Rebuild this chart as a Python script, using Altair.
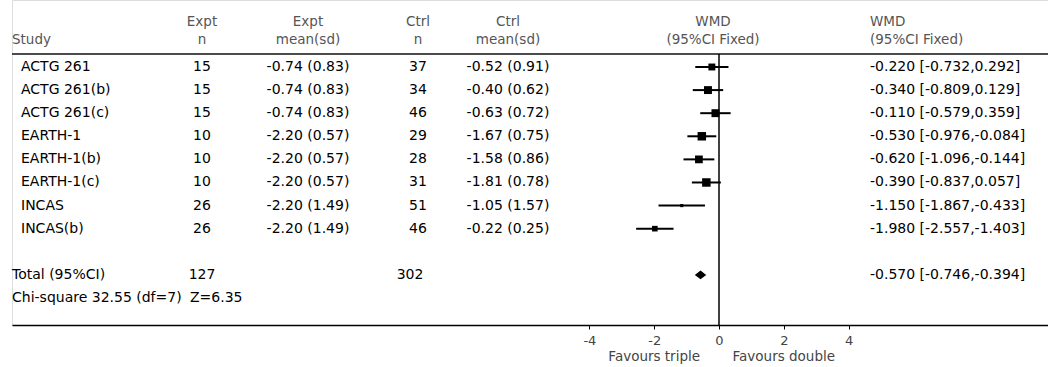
import altair as alt
import pandas as pd

# ---------------- data ----------------
studies = ["ACTG 261", "ACTG 261(b)", "ACTG 261(c)", "EARTH-1", "EARTH-1(b)",
           "EARTH-1(c)", "INCAS", "INCAS(b)"]
expt_n = [15, 15, 15, 10, 10, 10, 26, 26]
expt_mean_sd = ["-0.74 (0.83)", "-0.74 (0.83)", "-0.74 (0.83)", "-2.20 (0.57)",
                "-2.20 (0.57)", "-2.20 (0.57)", "-2.20 (1.49)", "-2.20 (1.49)"]
ctrl_n = [37, 34, 46, 29, 28, 31, 51, 46]
ctrl_mean_sd = ["-0.52 (0.91)", "-0.40 (0.62)", "-0.63 (0.72)", "-1.67 (0.75)",
                "-1.58 (0.86)", "-1.81 (0.78)", "-1.05 (1.57)", "-0.22 (0.25)"]
wmd = [-0.220, -0.340, -0.110, -0.530, -0.620, -0.390, -1.150, -1.980]
ci_low = [-0.732, -0.809, -0.579, -0.976, -1.096, -0.837, -1.867, -2.557]
ci_high = [0.292, 0.129, 0.359, -0.084, -0.144, 0.057, -0.433, -1.403]
weight_pct = [11.8, 14.1, 14.1, 15.5, 13.7, 15.5, 6.0, 9.3]

total_label = "Total (95%CI)"
total_expt_n = 127
total_ctrl_n = 302
total_wmd = -0.570
total_low = -0.746
total_high = -0.394
het_text = "Chi-square 32.55 (df=7)"
z_text = "Z=6.35"
tick_values = [-4, -2, 0, 2, 4]
favours = ["Favours triple", "Favours double"]
favours_at = [-2, 2]

# ---------------- layout ----------------
FONT = "DejaVu Sans"
PAD_L = 12
W, H = 1048 - PAD_L, 325
y_scale = alt.Scale(domain=[-1.9, 12.17], reverse=True, nice=False, zero=False)
x_scale = alt.Scale(domain=[-21.82, 10.154], nice=False, zero=False)
x_axis = alt.Axis(values=tick_values, title=None, grid=False, tickSize=4,
                  labelFontSize=13, labelFont=FONT, labelColor="#444",
                  domainColor="#000", domainWidth=1.5, tickColor="#000",
                  labelPadding=5, labelFlush=False, labelOverlap=False,
                  labelExpr="'' + datum.value")
Y = alt.Y("r:Q", scale=y_scale, axis=None)

rows = pd.DataFrame({
    "r": list(range(1, len(studies) + 1)),
    "study": studies, "en": expt_n, "em": expt_mean_sd,
    "cn": ctrl_n, "cm": ctrl_mean_sd,
    "wmd": wmd, "lo": ci_low, "hi": ci_high, "w": weight_pct,
})
rows["ci"] = [f"{a:.3f} [{b:.3f},{c:.3f}]" for a, b, c in zip(wmd, ci_low, ci_high)]

total = pd.DataFrame({
    "r": [10], "study": [total_label], "en": [total_expt_n], "cn": [total_ctrl_n],
    "wmd": [total_wmd], "lo": [total_low], "hi": [total_high],
    "ci": [f"{total_wmd:.3f} [{total_low:.3f},{total_high:.3f}]"],
})
het = pd.DataFrame({"r": [11], "t": [het_text], "z": [z_text]})


def text_col(df, field, px, align="center", size=14, color="#000", weight="normal"):
    return alt.Chart(df).mark_text(
        align=align, baseline="middle", font=FONT, fontSize=size,
        color=color, fontWeight=weight
    ).encode(x=alt.value(px - PAD_L), y=Y, text=f"{field}:N")


R1, R2 = -0.948, -0.169
def header(px, lines, align="center"):
    rs = [R1, R2][-len(lines):]
    df = pd.DataFrame({"r": rs, "t": lines})
    return text_col(df, "t", px, align=align, size=13.5, color="#555")

layers = []
# headers
layers += [
    header(PAD_L, ["Study"], align="left"),
    header(202, ["Expt", "n"]),
    header(308, ["Expt", "mean(sd)"]),
    header(418, ["Ctrl", "n"]),
    header(508, ["Ctrl", "mean(sd)"]),
    header(713, ["WMD", "(95%CI Fixed)"]),
    header(870, ["WMD", "(95%CI Fixed)"], align="left"),
]
# table body
layers += [
    text_col(rows, "study", 21, align="left"),
    text_col(rows, "en", 202),
    text_col(rows, "em", 308),
    text_col(rows, "cn", 418),
    text_col(rows, "cm", 508),
    text_col(rows, "ci", 870, align="left"),
    text_col(total, "study", PAD_L, align="left"),
    text_col(total, "en", 202),
    text_col(total, "cn", 410),
    text_col(total, "ci", 870, align="left"),
    text_col(het, "t", PAD_L, align="left"),
    text_col(het, "z", 190, align="left"),
]
# header underline
underline = alt.Chart(pd.DataFrame({"r": [0.437]})).mark_rule(
    color="#111", strokeWidth=1.5).encode(x=alt.value(0), x2=alt.value(W), y=Y)
layers.append(underline)

# zero line
zero = alt.Chart(pd.DataFrame({"x": [0], "r": [0.437], "r2": [12.17]})).mark_rule(
    color="#000", strokeWidth=1.5).encode(
    x=alt.X("x:Q", scale=x_scale, axis=x_axis), y=Y, y2="r2:Q")
layers.append(zero)

# confidence intervals
ci = alt.Chart(rows).mark_rule(color="#000", strokeWidth=2).encode(
    x=alt.X("lo:Q", scale=x_scale, axis=x_axis), x2="hi:Q", y=Y)
layers.append(ci)

squares = alt.Chart(rows).mark_square(color="#000", filled=True, opacity=1).encode(
    x=alt.X("wmd:Q", scale=x_scale, axis=x_axis), y=Y,
    size=alt.Size("w:Q", scale=alt.Scale(domain=[6, 16], range=[10, 75]), legend=None))
layers.append(squares)

diamond = alt.Chart(total).mark_point(
    shape="M-1,0L0,-0.75L1,0L0,0.75Z", filled=True, opacity=1, color="#000",
    size=(abs(total_high - total_low) * 32.4) ** 2).encode(
    x=alt.X("wmd:Q", scale=x_scale, axis=x_axis), y=Y)
layers.append(diamond)

fav = alt.Chart(pd.DataFrame({"x": favours_at, "r": [13.55, 13.55], "t": favours})).mark_text(
    align="center", baseline="middle", font=FONT, fontSize=13.5, color="#444").encode(
    x=alt.X("x:Q", scale=x_scale, axis=x_axis), y=Y, text="t:N")
layers.append(fav)

chart = alt.layer(*layers).properties(
    width=W, height=H, autosize="none",
    padding={"left": PAD_L, "top": 0, "right": 0, "bottom": 367 - H},
).configure_view(stroke=None).configure(background="white")

chart.save("out.html", embed_options={"renderer": "svg", "actions": False})
